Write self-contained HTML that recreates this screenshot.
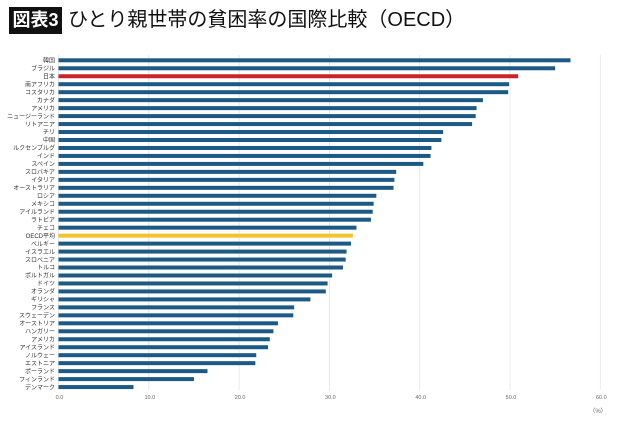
<!DOCTYPE html>
<html><head><meta charset="utf-8"><style>
body{margin:0;background:#fff;width:625px;height:425px;overflow:hidden;font-family:"Liberation Sans","Noto Sans CJK JP",sans-serif}
</style></head><body>
<div style="position:absolute;left:9px;top:7px;width:53px;height:27px;background:#111;color:#fff;font-size:18px;font-weight:bold;line-height:27px;text-align:center;font-family:'Liberation Sans','Noto Sans CJK JP',sans-serif">図表3</div>
<div style="position:absolute;left:68px;top:6px;font-size:20px;line-height:28px;color:#111">ひとり親世帯の貧困率の国際比較（OECD）</div>
<svg id="chart" width="625" height="425" style="position:absolute;left:0;top:0"></svg>
<script>
const categories=["韓国","ブラジル","日本","南アフリカ","コスタリカ","カナダ","アメリカ","ニュージーランド","リトアニア","チリ","中国","ルクセンブルグ","インド","スペイン","スロバキア","イタリア","オーストラリア","ロシア","メキシコ","アイルランド","ラトビア","チェコ","OECD平均","ベルギー","イスラエル","スロベニア","トルコ","ポルトガル","ドイツ","オランダ","ギリシャ","フランス","スウェーデン","オーストリア","ハンガリー","アメリカ","アイスランド","ノルウェー","エストニア","ポーランド","フィンランド","デンマーク"];
const values=[56.7,55.0,50.9,49.9,49.8,47.0,46.3,46.2,45.8,42.6,42.4,41.3,41.2,40.4,37.4,37.2,37.1,35.2,34.9,34.8,34.6,33.0,32.6,32.4,31.9,31.8,31.5,30.3,29.8,29.6,27.9,26.1,26.0,24.3,23.8,23.4,23.2,21.9,21.8,16.5,15.0,8.3];
const ticks=[0,10,20,30,40,50,60];
const tickLabels=["0.0","10.0","20.0","30.0","40.0","50.0","60.0"];
const svg=document.getElementById('chart');
const NS='http://www.w3.org/2000/svg';
const x0=58.5,sc=9.03,yTop=60.3,step=7.97;
const xs=v=>x0+v*sc;
const ys=i=>yTop+i*step;
ticks.forEach((t,i)=>{
  const l=document.createElementNS(NS,'line');
  
  
  l.setAttribute('x1',xs(t));l.setAttribute('x2',xs(t));l.setAttribute('y1',55);l.setAttribute('y2',390);
  l.setAttribute('stroke','#e3e6ea');l.setAttribute('stroke-width','0.8');
  svg.appendChild(l);
  const tx=document.createElementNS(NS,'text');
  
  
  tx.setAttribute('x',xs(t)+1);tx.setAttribute('y',399);tx.setAttribute('font-size','5.5');
  tx.setAttribute('text-anchor','middle');tx.setAttribute('fill','#666');
  tx.textContent=tickLabels[i];svg.appendChild(tx);
});
categories.forEach((c,i)=>{
  const r=document.createElementNS(NS,'rect');
  
  
  r.setAttribute('x',x0);r.setAttribute('y',ys(i)-2);r.setAttribute('height',4);
  r.setAttribute('width',values[i]*sc);
  r.setAttribute('fill',c==="日本"?'#cc2229':(c==="OECD平均"?'#f2c230':'#1c5a85'));
  svg.appendChild(r);
  const t=document.createElementNS(NS,'text');
  
  
  t.setAttribute('x',55);t.setAttribute('y',ys(i)+2.2);t.setAttribute('font-size','6');
  t.setAttribute('text-anchor','end');t.setAttribute('fill','#333');
  t.textContent=c;svg.appendChild(t);
});
const u=document.createElementNS(NS,'text');


u.setAttribute('x',598);u.setAttribute('y',413);u.setAttribute('font-size','6');
u.setAttribute('text-anchor','middle');u.setAttribute('fill','#666');
u.textContent='（%）';svg.appendChild(u);
</script>
</body></html>
